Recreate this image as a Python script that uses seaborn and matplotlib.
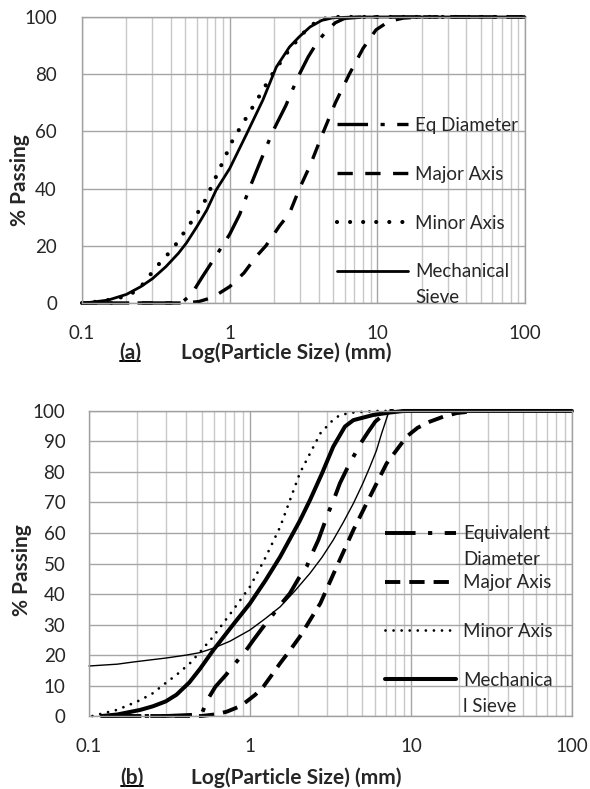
import matplotlib
matplotlib.use("Agg")
import matplotlib.pyplot as plt
from matplotlib.lines import Line2D
import seaborn as sns

# ---- panel (a) ----
a_eq_x = [0.1, 0.3, 0.47, 0.55, 0.66, 0.82, 1.0, 1.17, 1.36, 1.6, 1.96, 2.4, 2.9, 3.4, 3.9, 4.5, 5.2, 6.0, 8, 15, 100]
a_eq_y = [0, 0, 0, 3, 9.5, 17, 24, 31, 40, 49, 60, 69, 79, 86, 91, 95, 98, 99.5, 100, 100, 100]
a_major_x = [0.1, 0.3, 0.5, 0.62, 0.77, 1.0, 1.25, 1.51, 1.76, 2.18, 2.54, 2.97, 3.5, 4.27, 5.2, 6.46, 8, 9.8, 12, 15, 20, 100]
a_major_y = [0, 0, 0, 0.5, 2, 5.7, 10.5, 16.2, 20, 27, 31.3, 40, 48, 59.3, 70, 80, 89, 95.5, 98.5, 99.6, 100, 100]
a_minor_x = [0.1, 0.13, 0.17, 0.2, 0.24, 0.32, 0.414, 0.523, 0.66, 0.77, 0.9, 1.05, 1.3, 1.59, 1.96, 2.48, 2.82, 3.3, 4.0, 5, 10, 100]
a_minor_y = [0, 0.5, 1.5, 2.5, 4.5, 12.7, 19.1, 26.7, 34.3, 41.8, 49.4, 57, 64.9, 72.4, 80.3, 87.9, 91.4, 95.5, 99, 100, 100, 100]
a_mech_x = [0.105, 0.15, 0.2, 0.25, 0.3, 0.37, 0.45, 0.51, 0.6, 0.7, 0.81, 1.0, 1.3, 1.68, 2.07, 2.54, 2.95, 3.5, 4.2, 5.0, 7, 10, 20, 50, 100]
a_mech_y = [0, 1, 3, 5.7, 8.5, 12.7, 17.4, 21, 26.7, 32.5, 39.5, 47, 59, 71, 82.5, 89.5, 93, 96.5, 98.8, 99.7, 100, 100, 100, 100, 100]

# ---- panel (b) ----
b_eq_x = [0.12, 0.3, 0.5, 0.54, 0.61, 0.71, 0.81, 0.93, 1.05, 1.2, 1.36, 1.54, 1.77, 2.0, 2.25, 2.42, 2.66, 3.06, 3.34, 3.62, 4.0, 4.39, 4.87, 5.43, 6.0, 6.73, 7.2, 10, 100]
b_eq_y = [0, 0, 0.5, 5, 9.6, 13.5, 17.3, 21, 24.9, 29, 32.6, 36.4, 40.2, 45, 49, 53, 57.7, 66.5, 71.4, 76.3, 81, 85, 89.4, 93.2, 96.5, 98.7, 100, 100, 100]
b_major_x = [0.12, 0.3, 0.5, 0.6, 0.716, 0.85, 0.95, 1.08, 1.21, 1.36, 1.54, 1.77, 2.04, 2.74, 3.46, 4.39, 5.56, 7.06, 9.4, 11, 13.1, 16, 19.2, 25, 100]
b_major_y = [0, 0, 0, 0.5, 1.4, 3, 4.7, 7, 9.6, 13.3, 17.3, 21.5, 26, 37, 49, 61, 71.9, 82.8, 91.6, 94.5, 96.5, 98.2, 99.3, 100, 100]
b_minor_x = [0.105, 0.125, 0.149, 0.175, 0.208, 0.25, 0.289, 0.35, 0.424, 0.49, 0.59, 0.787, 1.0, 1.25, 1.54, 2.04, 2.74, 3.2, 3.62, 4.39, 6, 100]
b_minor_y = [0, 1, 2, 3.5, 5.2, 7.5, 10.2, 13.5, 17.3, 21, 26, 34.8, 42.4, 52, 62, 79.6, 92.7, 96.5, 98.7, 99.5, 100, 100]
b_mech_x = [0.12, 0.15, 0.208, 0.25, 0.3, 0.35, 0.42, 0.49, 0.59, 0.787, 1.0, 1.25, 1.54, 2.04, 2.36, 2.8, 3.29, 3.89, 4.39, 5.83, 7.4, 9, 20, 100]
b_mech_y = [0, 0.5, 2, 3.2, 4.8, 7, 11, 15.5, 21.5, 30, 36.9, 44.5, 52.2, 64, 70.8, 79.5, 88.3, 94.9, 97, 98.7, 99.5, 100, 100, 100]
b_thin_x = [0.1, 0.15, 0.188, 0.25, 0.3, 0.405, 0.49, 0.59, 0.75, 1.0, 1.25, 1.54, 1.9, 2.36, 2.8, 3.29, 3.8, 4.39, 5.0, 5.56, 6.1, 6.58, 7.23, 8, 10, 100]
b_thin_y = [16.4, 17, 17.7, 18.5, 19, 20, 20.8, 22.2, 24.5, 28.2, 32, 35.8, 41, 46.8, 52, 57.7, 63.5, 69.7, 76, 81.7, 87, 92.7, 99.2, 100, 100, 100]

x_ticks = [0.1, 1, 10, 100]
x_labels = ["0.1", "1", "10", "100"]

sns.set_style("white")
plt.rcParams["font.family"] = ["Lato", "DejaVu Sans"]
plt.rcParams["lines.scale_dashes"] = False

fig = plt.figure(figsize=(5.9, 7.89), dpi=100)
ax1 = fig.add_axes([0.139, 0.616, 0.7508, 0.3625])
ax2 = fig.add_axes([0.1508, 0.0925, 0.8186, 0.3866])

EQ_DASH = (0, (22, 9, 3, 9))
LABEL_FS = 15


def curve(ax, x, y, label, **kw):
    sns.lineplot(x=x, y=y, ax=ax, color="black", label=label, legend=False,
                 clip_on=False, **kw)


def style_axes(ax, yticks, ypad):
    ax.set_xscale("log")
    ax.set_xlim(0.1, 100)
    ax.set_ylim(0, 100)
    ax.set_xticks(x_ticks)
    ax.set_xticklabels(x_labels)
    ax.set_yticks(yticks)
    ax.set_axisbelow(True)
    ax.grid(which="major", axis="both", color="#a6a6a6", lw=1)
    ax.grid(which="minor", axis="x", color="#c8c8c8", lw=1)
    for s in ax.spines.values():
        s.set_color("#a0a0a0")
        s.set_linewidth(1)
    ax.tick_params(axis="x", which="major", length=5, color="#a0a0a0", pad=11, labelsize=13.5)
    ax.tick_params(axis="x", which="minor", length=0)
    ax.tick_params(axis="y", length=4, color="#a0a0a0", pad=ypad, labelsize=13.5)


style_axes(ax1, range(0, 101, 20), 14)
style_axes(ax2, range(0, 101, 10), 13)

# panel (a) curves
curve(ax1, a_eq_x, a_eq_y, "Eq Diameter", lw=2.4, linestyle=EQ_DASH)
curve(ax1, a_major_x, a_major_y, "Major Axis", lw=2.4, linestyle=(0, (11, 9)))
curve(ax1, a_minor_x, a_minor_y, "Minor Axis", lw=3, linestyle=(0, (0.01, 9.4)),
      dash_capstyle="round")
curve(ax1, a_mech_x, a_mech_y, "Mechanical", lw=2)

# panel (b) curves
curve(ax2, b_eq_x, b_eq_y, "Equivalent", lw=2.8, linestyle=EQ_DASH)
curve(ax2, b_major_x, b_major_y, "Major Axis", lw=2.8, linestyle=(0, (11, 6.5)))
curve(ax2, b_minor_x, b_minor_y, "Minor Axis", lw=2, linestyle=(0, (0.01, 5.8)),
      dash_capstyle="round")
curve(ax2, b_mech_x, b_mech_y, "Mechanica", lw=2.9)
curve(ax2, b_thin_x, b_thin_y, "_nolegend_", lw=1)

leg_kw = dict(loc="center left", frameon=False, fontsize=13.5, handlelength=3.78,
              handletextpad=0.37, labelspacing=1.7, borderpad=0, borderaxespad=0)
leg1 = ax1.legend(bbox_to_anchor=(0.576, 0.365), **leg_kw)
leg2 = ax2.legend(bbox_to_anchor=(0.613, 0.357), **leg_kw)

for ax, lx, ly, xx, xy in [(ax1, -0.14, 0.43, 0.46, -0.175), (ax2, -0.139, 0.479, 0.429, -0.203)]:
    ax.set_ylabel("% Passing", fontsize=LABEL_FS, fontweight="bold")
    ax.set_xlabel("Log(Particle Size) (mm)", fontsize=LABEL_FS, fontweight="bold")
    ax.yaxis.set_label_coords(lx, ly)
    ax.xaxis.set_label_coords(xx, xy)
    ax.yaxis.label.set_va("center")
    ax.xaxis.label.set_va("center")

tag_a = fig.text(130 / 590, 1 - 353 / 789, "(a)", fontsize=LABEL_FS, fontweight="bold", ha="center", va="center")
tag_b = fig.text(132 / 590, 1 - 778 / 789, "(b)", fontsize=LABEL_FS, fontweight="bold", ha="center", va="center")

fig.canvas.draw()
inv = fig.transFigure.inverted()

# wrapped second lines of legend labels
for leg, extras in [(leg1, ["", "", "", "Sieve"]), (leg2, ["Diameter", "", "", "l Sieve"])]:
    for txt, extra in zip(leg.get_texts(), extras):
        if extra:
            bb = txt.get_window_extent()
            x0, yc = inv.transform((bb.x0, (bb.y0 + bb.y1) / 2 - 26))
            fig.text(x0, yc, extra, fontsize=13.5, ha="left", va="center")

# underline the panel tags
for tag in (tag_a, tag_b):
    bb = tag.get_window_extent()
    (x0, y0), (x1, _) = inv.transform([(bb.x0 + 1, bb.y0 + 2), (bb.x1 - 1, bb.y0 + 2)])
    fig.add_artist(Line2D([x0, x1], [y0, y0], transform=fig.transFigure, color="black", lw=1.4))

fig.savefig("out.png", dpi=100)
